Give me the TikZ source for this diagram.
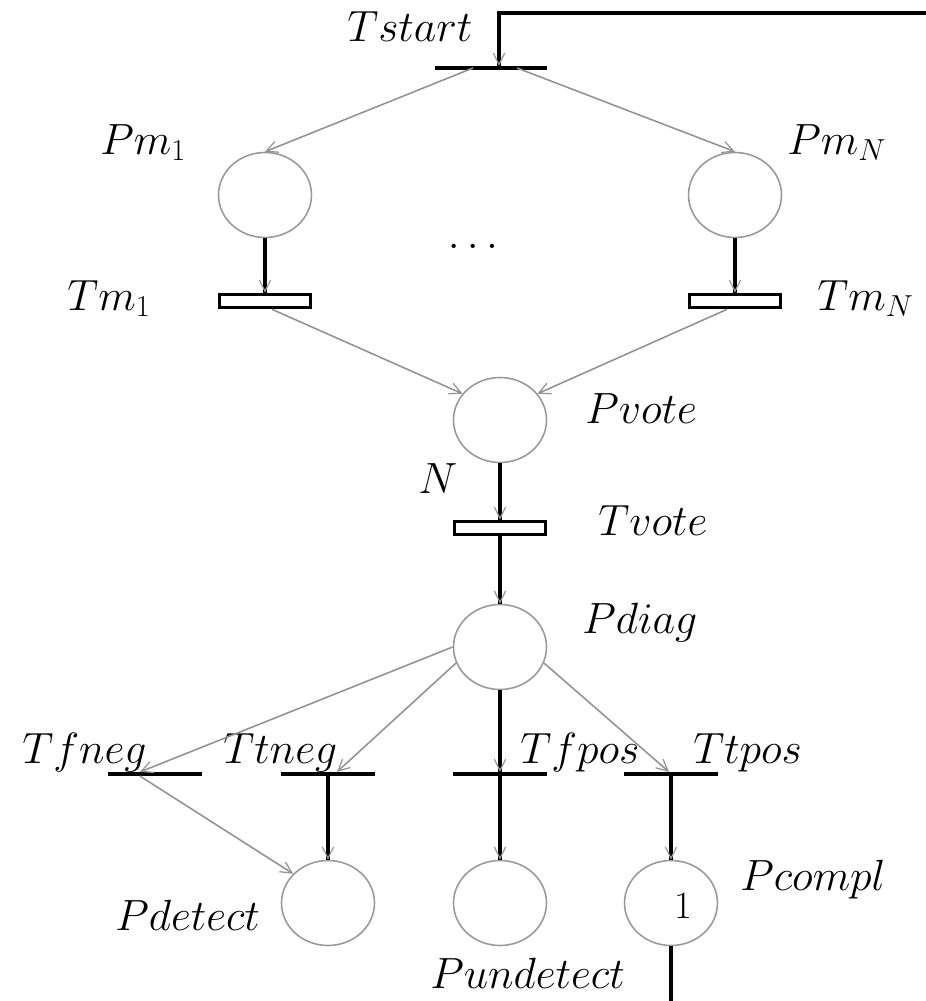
\documentclass[tikz,border=0pt]{standalone}
\usetikzlibrary{arrows.meta,shapes.geometric,calc,decorations.markings}
\begin{document}
\begin{tikzpicture}[x=0.02cm,y=-0.02cm,
  place/.style={ellipse,draw=gray!80,line width=0.9pt,minimum width=1.86cm,minimum height=1.70cm,inner sep=0pt},
  bar/.style={rectangle,fill=black,minimum height=0.07cm,minimum width=1.9cm,inner sep=0pt},
  boxtr/.style={rectangle,draw=black,line width=1.8pt,fill=white,minimum width=1.82cm,minimum height=0.27cm,inner sep=0pt},
  garc/.style={draw=gray!85,line width=0.9pt,-{Straight Barb[length=6.5pt,width=6.5pt,line width=0.7pt]}},
  varc/.style={draw=black,line width=1.8pt,postaction={decorate},
    decoration={markings,mark=at position 1 with {\arrow[gray!80]{Straight Barb[length=6.5pt,width=6.5pt,line width=0.7pt]}}}},
  plain/.style={draw=black,line width=1.8pt},
  lbl/.style={anchor=base west,inner sep=0pt,font=\fontsize{27}{31}\selectfont},
]
\useasboundingbox (0,0) rectangle (926,1001);

% places and transitions
\node[bar,minimum width=2.24cm] (tstart) at (491,68) {};
\node[place] (pm1) at (265,195) {};
\node[place] (pmn) at (735,195) {};
\node[boxtr] (tm1) at (265,301) {};
\node[boxtr] (tmn) at (735,301) {};
\node[place] (pvote) at (500,420) {};
\node[boxtr] (tvote) at (500,528) {};
\node[place] (pdiag) at (500,647) {};
\node[bar] (tfneg) at (155,774) {};
\node[bar] (ttneg) at (328,774) {};
\node[bar] (tfpos) at (500,774) {};
\node[bar] (ttpos) at (671,774) {};
\node[place] (pdetect) at (328,903) {};
\node[place] (pundetect) at (500,903) {};
\node[place] (pcompl) at (671,903) {};
\node[font=\fontsize{22}{24}\selectfont,inner sep=0pt] (token) at (683,906) {1};
\node[anchor=base,inner sep=0pt,font=\fontsize{28}{30}\selectfont] (dots) at (473,248) {$\ldots$};

% labels
\node[lbl] (ltstart) at (347,41) {$Tstart$};
\node[lbl] (lpm1) at (100,154) {$Pm_1$};
\node[lbl] (lpmn) at (787,154) {$Pm_N$};
\node[lbl] (ltm1) at (67,310) {$Tm_1$};
\node[lbl] (ltmn) at (817,310) {$Tm_N$};
\node[lbl] (lpvote) at (585,423) {$Pvote$};
\node[lbl] (ln) at (418,493) {$N$};
\node[lbl] (ltvote) at (598,535) {$Tvote$};
\node[lbl] (lpdiag) at (582,633) {$Pdiag$};
\node[lbl] (ltfneg) at (22,763) {$Tfneg$};
\node[lbl] (lttneg) at (223,763) {$Ttneg$};
\node[lbl] (ltfpos) at (520,763) {$Tfpos$};
\node[lbl] (lttpos) at (693,763) {$Ttpos$};
\node[lbl] (lpdetect) at (115,930) {$Pdetect$};
\node[lbl] (lpundetect) at (430,988) {$Pundetect$};
\node[lbl] (lpcompl) at (740,890) {$Pcompl$};

% free ends of the loop through Pcompl and Tstart
\coordinate (loopin) at (926,13);
\coordinate (loopout) at (671,1001);

% arcs
\draw[varc] (loopin) -| ($(tstart.north)+(8,0)$);
\draw[garc] ($(tstart.center)+(-18,0)$) -- (pm1.north);
\draw[garc] ($(tstart.center)+(26,0)$) -- (pmn.north);
\draw[varc] (pm1.south) -- (tm1.north);
\draw[varc] (pmn.south) -- (tmn.north);
\draw[garc] ($(tm1.south)+(7,0)$) -- (pvote.145);
\draw[garc] ($(tmn.south)+(-8,0)$) -- (pvote.35);
\draw[varc] (pvote.south) -- (tvote.north);
\draw[varc] (tvote.south) -- (pdiag.north);
\draw[garc] (pdiag.west) -- ($(tfneg.north)+(-15,0)$);
\draw[garc] (pdiag.200) -- ($(ttneg.north)+(9,0)$);
\draw[varc] (pdiag.south) -- (tfpos.north);
\draw[garc] (pdiag.340) -- ($(ttpos.north)+(-2,0)$);
\draw[garc] ($(tfneg.south)+(-15,0)$) -- (pdetect.140);
\draw[varc] (ttneg.center) -- (pdetect.north);
\draw[varc] (tfpos.center) -- (pundetect.north);
\draw[varc] (ttpos.center) -- (pcompl.north);
\draw[plain] (pcompl.south) -- (loopout);
\end{tikzpicture}
\end{document}
